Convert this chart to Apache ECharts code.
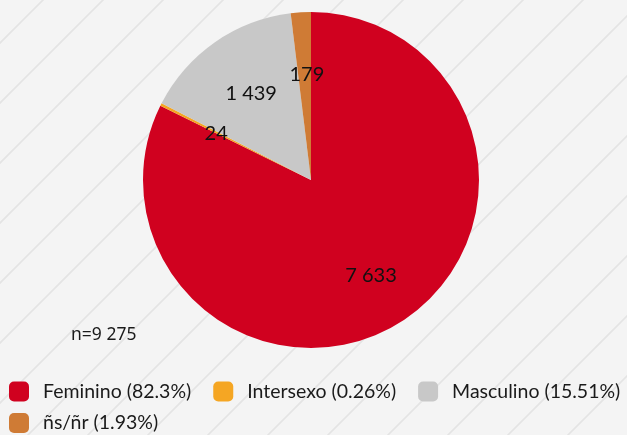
<!DOCTYPE html>
<html>
<head>
<meta charset="utf-8">
<script src="https://cdn.jsdelivr.net/npm/echarts@6/dist/echarts.min.js"></script>
<style>
  html, body { margin: 0; padding: 0; }
  #chart { width: 627px; height: 435px; }
</style>
</head>
<body>
<div id="chart"></div>
<script>
// data
const categories = ['Feminino', 'Intersexo', 'Masculino', 'ñs/ñr']
const counts = [7633, 24, 1439, 179]
const colors = ['#d0011f', '#f5a623', '#c8c8c8', '#cf7b35']
const totalText = 'n=9 275'

const total = counts.reduce((a, b) => a + b, 0)
const fmt = v => String(v).replace(/\B(?=(\d{3})+(?!\d))/g, ' ')
const pct = v => parseFloat((v / total * 100).toFixed(2)) + '%'

const data = categories.map((name, i) => ({ name, value: counts[i] }))

// striped background tile
const tile = document.createElement('canvas')
tile.width = 60
tile.height = 60
const ctx = tile.getContext('2d')
ctx.fillStyle = '#f4f4f4'
ctx.fillRect(0, 0, 60, 60)
ctx.strokeStyle = '#e4e4e4'
ctx.lineWidth = 1.6
ctx.beginPath()
ctx.moveTo(-2, 45); ctx.lineTo(45, -2)
ctx.moveTo(41, 62); ctx.lineTo(62, 41)
ctx.stroke()

// legend wraps after the third entry, so two legend rows
const legendBase = {
  left: 9,
  padding: 0,
  icon: 'roundRect',
  itemWidth: 20,
  itemHeight: 20,
  itemGap: 22,
  formatter: name => name + ' (' + pct(counts[categories.indexOf(name)]) + ')',
  textStyle: { fontFamily: 'Lato', fontSize: 19.5, color: '#1a1a1a', padding: [0, 0, 0, 9] }
}

const chart = echarts.init(document.getElementById('chart'))
chart.setOption({
  backgroundColor: { image: tile, repeat: 'repeat' },
  color: colors,
  animation: false,
  legend: [
    Object.assign({}, legendBase, { data: categories.slice(0, 3), top: 381.5 }),
    Object.assign({}, legendBase, { data: categories.slice(3), top: 413 })
  ],
  graphic: [{
    type: 'text',
    left: 71,
    top: 326,
    style: { text: totalText, font: '17.5px "Noto Sans"', fill: '#1a1a1a' }
  }],
  series: [
    {
      type: 'pie',
      center: [311, 180],
      radius: [0, 168],
      startAngle: 90,
      clockwise: true,
      data,
      label: { show: false },
      labelLine: { show: false },
      silent: true
    },
    {
      // transparent copy, only carries the value labels
      type: 'pie',
      center: [311, 180],
      radius: [44, 168],
      startAngle: 90,
      clockwise: true,
      data,
      itemStyle: { color: 'rgba(0,0,0,0)' },
      label: {
        show: true,
        position: 'inside',
        formatter: p => fmt(p.value),
        fontFamily: 'Lato',
        fontSize: 20,
        color: '#111',
        offset: [2.5, 3]
      },
      labelLine: { show: false },
      silent: true
    }
  ]
})
</script>
</body>
</html>
